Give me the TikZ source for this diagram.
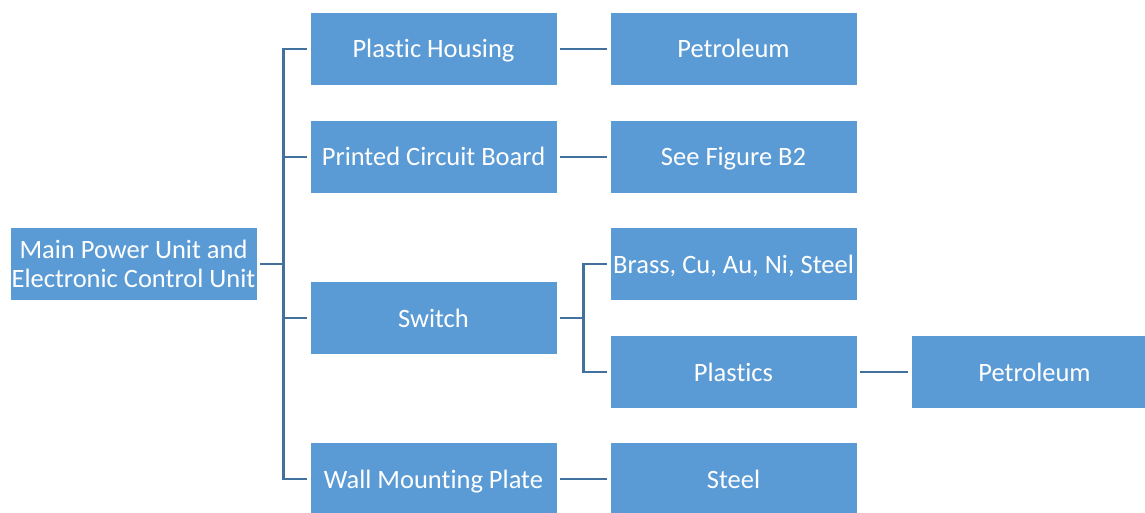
\documentclass[tikz,border=0pt]{standalone}
\usepackage{fontspec}
\setmainfont{Carlito}[Ligatures={NoCommon}]
\definecolor{boxfill}{HTML}{5B9BD5}
\definecolor{linec}{HTML}{41719C}
\begin{document}
\begin{tikzpicture}[x=1pt,y=-1pt,
  box/.style={draw=white,line width=0.6pt,fill=boxfill,text=white,minimum width=247pt,minimum height=73pt,inner sep=0pt,align=center,font=\fontsize{26.5}{29}\selectfont},
  single/.style={box,text height=18pt,text depth=0pt},
  conn/.style={draw=linec,line width=2.1pt}]
\useasboundingbox (0,0) rectangle (1145,513);
\begin{scope}
\clip (0,0) rectangle (1145,513);
\node[box] (main) at (133.5,264) {Main Power Unit and\\Electronic Control Unit};
\node[single] (ph) at (433.5,49) {Plastic Housing};
\node[single] (pcb) at (433.5,157) {Printed Circuit Board};
\node[single] (sw) at (433.5,318) {Switch};
\node[single] (wall) at (433.5,479) {Wall Mounting Plate};
\node[single] (pet1) at (733.5,49) {Petroleum};
\node[single] (fig) at (733.5,157) {See Figure B2};
\node[single] (brass) at (733.5,264) {Brass, Cu, Au, Ni, Steel};
\node[single] (plast) at (733.5,372) {Plastics};
\node[single] (steel) at (733.5,479) {Steel};
\node[single] (pet2) at (1034.5,372) {Petroleum};
\end{scope}
\coordinate (hub) at (283.5,264);
\coordinate (hub2) at (583.5,318);
\draw[conn] ([xshift=-3pt]ph.west) -| (hub) |- ([xshift=-3pt]wall.west);
\draw[conn] ([xshift=3pt]main.east) -- (hub);
\draw[conn] (hub|-pcb.west) -- ([xshift=-3pt]pcb.west);
\draw[conn] (hub|-sw.west) -- ([xshift=-3pt]sw.west);
\draw[conn] ([xshift=-3pt]brass.west) -| (hub2) |- ([xshift=-3pt]plast.west);
\draw[conn] ([xshift=3pt]sw.east) -- (hub2);
\draw[conn] ([xshift=3pt]ph.east) -- ([xshift=-3pt]pet1.west);
\draw[conn] ([xshift=3pt]pcb.east) -- ([xshift=-3pt]fig.west);
\draw[conn] ([xshift=3pt]wall.east) -- ([xshift=-3pt]steel.west);
\draw[conn] ([xshift=3pt]plast.east) -- ([xshift=-3pt]pet2.west);
\end{tikzpicture}
\end{document}
